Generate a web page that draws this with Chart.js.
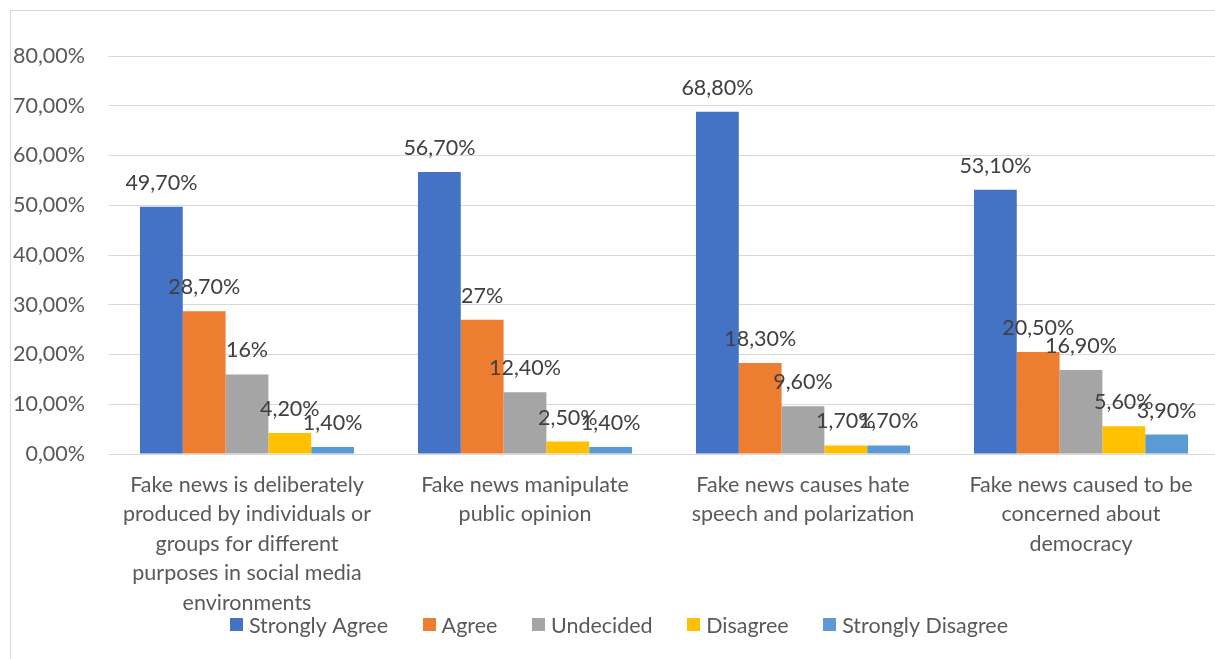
<!DOCTYPE html>
<html>
<head>
<meta charset="utf-8">
<script src="https://cdn.jsdelivr.net/npm/chart.js@4/dist/chart.umd.min.js"></script>
<style>
  html, body { margin: 0; padding: 0; background: #fff; overflow: hidden; width: 1215px; height: 659px; }
  #frame { position: absolute; left: 10px; top: 10px; width: 1240px; height: 700px; border: 1px solid #d9d9d9; box-sizing: border-box; }
  #wrap { position: absolute; left: 10px; top: 10px; width: 1218px; height: 649px; }
</style>
</head>
<body>
<div id="frame"></div>
<div id="wrap"><canvas id="c" width="1218" height="649"></canvas></div>
<script>
const categories = [
  ["Fake news is deliberately", "produced by individuals or", "groups for different", "purposes in social media", "environments"],
  ["Fake news manipulate", "public opinion"],
  ["Fake news causes hate", "speech and polarization"],
  ["Fake news caused to be", "concerned about", "democracy"]
];
const seriesNames = ["Strongly Agree", "Agree", "Undecided", "Disagree", "Strongly Disagree"];
const seriesColors = ["#4472C4", "#ED7D31", "#A5A5A5", "#FFC000", "#5B9BD5"];
const stronglyAgree = [49.7, 56.7, 68.8, 53.1];
const agree = [28.7, 27, 18.3, 20.5];
const undecided = [16, 12.4, 9.6, 16.9];
const disagree = [4.2, 2.5, 1.7, 5.6];
const stronglyDisagree = [1.4, 1.4, 1.7, 3.9];
const stronglyAgreeLabels = ["49,70%", "56,70%", "68,80%", "53,10%"];
const agreeLabels = ["28,70%", "27%", "18,30%", "20,50%"];
const undecidedLabels = ["16%", "12,40%", "9,60%", "16,90%"];
const disagreeLabels = ["4,20%", "2,50%", "1,70%", "5,60%"];
const stronglyDisagreeLabels = ["1,40%", "1,40%", "1,70%", "3,90%"];
const yTickLabels = ["0,00%", "10,00%", "20,00%", "30,00%", "40,00%", "50,00%", "60,00%", "70,00%", "80,00%"];

const seriesValues = [stronglyAgree, agree, undecided, disagree, stronglyDisagree];
const seriesLabels = [stronglyAgreeLabels, agreeLabels, undecidedLabels, disagreeLabels, stronglyDisagreeLabels];

const FONT = "Lato, Carlito, Calibri, sans-serif";
const FSIZE = 21.5;

const valueLabelPlugin = {
  id: 'valueLabels',
  afterDatasetsDraw(chart) {
    const ctx = chart.ctx;
    ctx.save();
    ctx.font = FSIZE + "px " + FONT;
    ctx.fillStyle = "#404040";
    ctx.textAlign = "center";
    ctx.textBaseline = "middle";
    chart.data.datasets.forEach((ds, di) => {
      const meta = chart.getDatasetMeta(di);
      meta.data.forEach((bar, i) => {
        ctx.fillText(seriesLabels[di][i], bar.x, bar.y - 24);
      });
    });
    ctx.restore();
  }
};

// Legend drawn from the chart's own datasets (overlaps the axis-label area like the original)
const bottomLegendPlugin = {
  id: 'bottomLegend',
  afterDraw(chart) {
    const ctx = chart.ctx;
    ctx.save();
    ctx.font = FSIZE + "px " + FONT;
    ctx.textBaseline = "middle";
    ctx.textAlign = "left";
    const box = 13, gapBoxText = 6, gapItems = 34.5;
    const items = chart.data.datasets.map(ds => ({ text: ds.label, color: ds.backgroundColor, w: ctx.measureText(ds.label).width }));
    const total = items.reduce((s, it) => s + box + gapBoxText + it.w, 0) + gapItems * (items.length - 1);
    let x = 609 - total / 2;
    const cy = 615;
    items.forEach(it => {
      ctx.fillStyle = it.color;
      ctx.fillRect(Math.round(x), cy - 7, box, box);
      ctx.fillStyle = "#595959";
      ctx.fillText(it.text, x + box + gapBoxText, cy + 1);
      x += box + gapBoxText + it.w + gapItems;
    });
    ctx.restore();
  }
};

new Chart(document.getElementById('c'), {
  type: 'bar',
  data: {
    labels: categories,
    datasets: seriesNames.map((name, i) => ({
      label: name,
      data: seriesValues[i],
      backgroundColor: seriesColors[i],
      borderWidth: 0,
      categoryPercentage: 0.77,
      barPercentage: 1.0
    }))
  },
  options: {
    responsive: false,
    animation: false,
    devicePixelRatio: 1,
    layout: { padding: { top: 46, right: 8, left: 0, bottom: 0 } },
    plugins: {
      tooltip: { enabled: false },
      legend: { display: false }
    },
    scales: {
      x: {
        grid: { display: false, drawTicks: false },
        border: { display: false },
        ticks: {
          color: '#595959',
          padding: 16,
          maxRotation: 0,
          autoSkip: false,
          font: { family: FONT, size: FSIZE, lineHeight: '29.5px' }
        },
        afterFit(scale) { scale.height = 205; }
      },
      y: {
        min: 0,
        max: 80,
        grid: { color: '#d9d9d9', lineWidth: 1, drawTicks: false },
        border: { display: false },
        ticks: {
          stepSize: 10,
          padding: 23,
          color: '#595959',
          font: { family: FONT, size: FSIZE },
          callback: (v, idx) => yTickLabels[idx]
        },
        afterFit(scale) { scale.width = 98; }
      }
    }
  },
  plugins: [valueLabelPlugin, bottomLegendPlugin]
});
</script>
</body>
</html>
